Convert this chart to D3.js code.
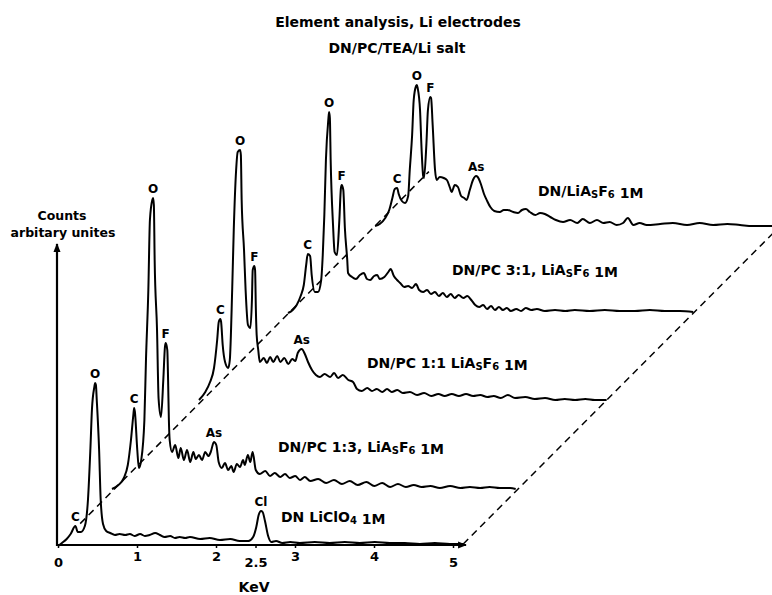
<!DOCTYPE html>
<html>
<head>
<meta charset="utf-8">
<script src="https://cdn.jsdelivr.net/npm/d3@7/dist/d3.min.js"></script>
<style>
  body { margin: 0; background: #fff; }
  text { font-family: "DejaVu Sans", sans-serif; font-weight: bold; fill: #000; }
</style>
</head>
<body>
<svg id="chart" width="772" height="595"></svg>
<script>
// ---- data (keV, counts in arbitrary units) ----
var keV0 = [0,0.05,0.11,0.16,0.22,0.25,0.29,0.34,0.38,0.41,0.43,0.46,0.47,0.48,0.49,0.52,0.54,0.57,0.61,0.66,0.72,0.78,0.85,0.91,0.97,1.04,1.10,1.16,1.23,1.29,1.35,1.42,1.48,1.54,1.61,1.67,1.80,1.92,2.05,2.18,2.30,2.41,2.47,2.51,2.54,2.57,2.59,2.62,2.66,2.70,2.76,2.84,2.94,3.06,3.25,3.44,3.63,3.82,4.01,4.20,4.39,4.58,4.77,4.96,5.13];
var counts0 = [0,3,7,12,20,14,14,20,47,97,137,159,163,161,147,97,47,22,15,13,11,12,11,12,10,12,10,11,13,11,9,10,8,9,8,9,7,8,6,7,5,5,9,19,31,35,34,25,10,4,5,3,4,3,4,3,4,3,4,3,3,2,3,2,2];

var keV1 = [0,0.08,0.15,0.20,0.24,0.27,0.28,0.29,0.32,0.34,0.37,0.41,0.43,0.46,0.48,0.51,0.52,0.53,0.54,0.57,0.59,0.62,0.65,0.67,0.68,0.70,0.71,0.72,0.73,0.76,0.80,0.84,0.87,0.91,0.95,0.99,1.03,1.06,1.10,1.14,1.18,1.22,1.25,1.29,1.32,1.35,1.39,1.43,1.47,1.51,1.54,1.58,1.62,1.66,1.68,1.72,1.75,1.78,1.82,1.87,1.94,2.00,2.06,2.13,2.19,2.25,2.32,2.38,2.44,2.51,2.61,2.71,2.81,2.91,3.01,3.11,3.22,3.32,3.42,3.52,3.62,3.72,3.82,3.92,4.03,4.15,4.28,4.41,4.53,4.66,4.78,4.91,5.04,5.11];
var counts1 = [0,4,11,24,49,74,81,77,39,21,29,69,129,199,269,289,291,284,229,159,90,72,110,142,146,139,109,69,49,37,44,31,41,29,39,27,37,30,34,29,37,33,37,47,44,27,21,26,19,23,17,25,22,29,24,34,27,37,19,15,18,13,16,12,15,11,13,9,12,8,10,6,9,5,8,4,7,3,6,2,5,2,4,2,3,1,3,1,2,1,2,1,1,0];

var keV2 = [0,0.08,0.14,0.19,0.23,0.25,0.27,0.28,0.30,0.33,0.37,0.39,0.42,0.44,0.47,0.49,0.52,0.53,0.54,0.57,0.59,0.62,0.65,0.67,0.68,0.70,0.71,0.72,0.73,0.75,0.77,0.82,0.86,0.90,0.94,0.99,1.03,1.08,1.13,1.18,1.22,1.25,1.30,1.34,1.38,1.43,1.48,1.53,1.59,1.66,1.71,1.76,1.82,1.89,1.95,2.00,2.06,2.13,2.19,2.25,2.32,2.38,2.44,2.51,2.58,2.67,2.76,2.85,2.94,3.03,3.11,3.20,3.29,3.38,3.47,3.56,3.65,3.73,3.82,3.91,4.00,4.13,4.25,4.38,4.51,4.63,4.76,4.89,5.01,5.16];
var counts2 = [0,8,18,32,60,78,81,78,55,38,32,40,110,170,230,248,250,245,200,150,110,75,72,100,130,134,130,90,65,50,38,42,37,43,38,44,38,42,36,41,39,47,51,46,38,30,25,23,26,23,27,22,25,20,18,11,9,12,9,11,8,11,8,10,7,8,5,7,4,6,4,6,4,6,4,5,3,4,2,5,2,3,1,2,0,1,0,1,0,0];

var keV3 = [0,0.06,0.11,0.16,0.20,0.23,0.25,0.28,0.30,0.34,0.38,0.42,0.44,0.46,0.48,0.51,0.52,0.53,0.54,0.57,0.59,0.62,0.65,0.67,0.68,0.70,0.72,0.75,0.76,0.81,0.86,0.91,0.96,1.00,1.04,1.09,1.13,1.16,1.22,1.27,1.30,1.34,1.38,1.42,1.47,1.52,1.57,1.62,1.66,1.71,1.76,1.81,1.86,1.91,1.96,2.01,2.06,2.11,2.16,2.22,2.27,2.32,2.37,2.42,2.47,2.52,2.57,2.62,2.67,2.72,2.77,2.82,2.89,2.95,3.01,3.08,3.15,3.25,3.38,3.51,3.63,3.82,4.01,4.20,4.39,4.58,4.77,4.96,5.13];
var counts3 = [0,3,8,17,28,48,59,57,38,21,21,33,58,98,153,193,201,195,153,88,61,58,93,125,128,123,85,53,40,36,34,38,40,34,33,37,38,34,36,41,44,37,33,30,26,27,25,29,23,21,23,19,21,17,20,16,19,15,18,15,17,13,8,6,8,4,7,3,6,3,5,2,4,2,5,3,4,2,3,2,3,2,3,2,2,3,2,2,1];

var keV4 = [0,0.06,0.13,0.18,0.22,0.25,0.28,0.30,0.34,0.38,0.42,0.44,0.47,0.49,0.52,0.53,0.54,0.57,0.59,0.61,0.62,0.65,0.67,0.70,0.71,0.73,0.76,0.78,0.82,0.87,0.91,0.95,0.97,1.01,1.05,1.09,1.13,1.16,1.20,1.24,1.28,1.30,1.34,1.38,1.42,1.46,1.51,1.58,1.63,1.68,1.75,1.81,1.86,1.91,1.96,2.03,2.09,2.15,2.22,2.29,2.38,2.47,2.56,2.63,2.72,2.81,2.89,2.97,3.06,3.14,3.20,3.27,3.35,3.44,3.61,3.77,3.95,4.11,4.28,4.46,4.62,4.78,4.96,5.13];
var counts4 = [0,2,8,16,28,37,38,32,25,23,30,56,91,126,140,141,138,116,76,50,48,81,116,129,128,101,56,46,49,48,46,38,34,41,39,30,28,26,36,46,50,49,42,32,25,19,15,14,16,16,14,13,16,17,14,11,13,12,9,6,4,6,3,7,3,6,3,4,1,3,8,1,3,1,2,3,1,3,1,2,1,0,0,0];

// solution names, front to back
var solutions = ["DN LiClO4 1M", "DN/PC 1:3, LiAsF6 1M", "DN/PC 1:1 LiAsF6 1M", "DN/PC 3:1, LiAsF6 1M", "DN/LiAsF6 1M"];

// element marks on each trace: [element, keV of the peak]
var peaks0 = [["C", 0.22], ["O", 0.47], ["Cl", 2.57]];
var peaks1 = [["C", 0.28], ["O", 0.52], ["F", 0.68], ["As", 1.29]];
var peaks2 = [["C", 0.27], ["O", 0.52], ["F", 0.70], ["As", 1.30]];
var peaks3 = [["C", 0.25], ["O", 0.52], ["F", 0.68]];
var peaks4 = [["C", 0.28], ["O", 0.53], ["F", 0.70], ["As", 1.28]];

var tickValues = [0, 1, 2, 2.5, 3, 4, 5];

// ---- layout (pseudo 3D: each trace is pushed back up and to the right) ----
var originX = 58;
var shiftX = [0, 54, 141, 230, 317];
var baseY = [546, 489, 400, 313, 226];
var nameXY = [[281, 517], [278, 447], [367, 363], [452, 270], [538, 191]];

var svg = d3.select("#chart");

var x = d3.scaleLinear().domain([0, 5]).range([0, 395]);
var y = d3.scaleLinear().domain([0, 300]).range([0, -300]);

var traces = [
  {keV: keV0, counts: counts0, peaks: peaks0},
  {keV: keV1, counts: counts1, peaks: peaks1},
  {keV: keV2, counts: counts2, peaks: peaks2},
  {keV: keV3, counts: counts3, peaks: peaks3},
  {keV: keV4, counts: counts4, peaks: peaks4}
];
traces.forEach(function(t, i){
  t.pts = t.keV.map(function(e, j){ return [e, t.counts[j]]; });
  t.ox = originX + shiftX[i];
  t.oy = baseY[i];
});

// title
svg.append("text").attr("x", 398).attr("y", 27).attr("text-anchor", "middle")
  .style("font-size", "14px").text("Element analysis, Li electrodes");
svg.append("text").attr("x", 397).attr("y", 53).attr("text-anchor", "middle")
  .style("font-size", "14px").text("DN/PC/TEA/Li salt");

// arrow marker
svg.append("defs").append("marker")
  .attr("id", "arrow").attr("viewBox", "0 0 10 10").attr("refX", 9).attr("refY", 5)
  .attr("markerWidth", 4).attr("markerHeight", 4).attr("orient", "auto")
  .append("path").attr("d", "M0,1 L10,5 L0,9 Z").attr("fill", "#000");

// dashed guide lines through the starts and ends of the traces
function tracePoint(t, k){
  var p = t.pts[k];
  return [t.ox + x(p[0]), t.oy + y(p[1])];
}
function guide(a, b, t0, t1){
  svg.append("line")
    .attr("x1", a[0] + (b[0] - a[0]) * t0).attr("y1", a[1] + (b[1] - a[1]) * t0)
    .attr("x2", a[0] + (b[0] - a[0]) * t1).attr("y2", a[1] + (b[1] - a[1]) * t1)
    .attr("stroke", "#000").attr("stroke-width", 1.5).attr("stroke-dasharray", "7,5");
}
var first = traces[0], last = traces[traces.length - 1];
guide(tracePoint(first, 0), tracePoint(last, 0), 0.07, 1.17);
guide(tracePoint(first, first.pts.length - 1), tracePoint(last, last.pts.length - 1), 0.0, 1.15);

// axes
var axisX = d3.scaleLinear().domain([0, 5]).range([originX, originX + 395]);
svg.append("line").attr("x1", originX - 1).attr("y1", 545).attr("x2", 466).attr("y2", 545)
  .attr("stroke", "#000").attr("stroke-width", 2.2).attr("marker-end", "url(#arrow)");
svg.append("line").attr("x1", originX - 1).attr("y1", 546).attr("x2", originX - 1).attr("y2", 244)
  .attr("stroke", "#000").attr("stroke-width", 2.2).attr("marker-end", "url(#arrow)");

var gx = svg.append("g").attr("transform", "translate(0,545)")
  .call(d3.axisBottom(axisX).tickValues(tickValues).tickSize(3).tickPadding(4)
    .tickFormat(function(d){ return String(d); }));
gx.select(".domain").remove();
gx.selectAll(".tick line").attr("stroke", "#000").attr("stroke-width", 1.5);
gx.selectAll(".tick text")
  .style("font-family", "DejaVu Sans, sans-serif").style("font-weight", "bold").style("font-size", "13px")
  .attr("dy", function(d){ return (d === 0 || d === 2.5 || d === 5) ? "1.15em" : "0.7em"; });

svg.append("text").attr("x", 254).attr("y", 592).attr("text-anchor", "middle")
  .style("font-size", "14px").text("KeV");

svg.append("text").attr("x", 62).attr("y", 220).attr("text-anchor", "middle")
  .style("font-size", "12.5px").text("Counts");
svg.append("text").attr("x", 63).attr("y", 237).attr("text-anchor", "middle")
  .style("font-size", "12.5px").text("arbitary unites");

// spectra
var line = d3.line()
  .x(function(d){ return x(d[0]); })
  .y(function(d){ return y(d[1]); })
  .curve(d3.curveMonotoneX);

traces.forEach(function(t, i){
  var g = svg.append("g").attr("transform", "translate(" + t.ox + "," + t.oy + ")");
  g.append("path").datum(t.pts).attr("d", line)
    .attr("fill", "none").attr("stroke", "#000").attr("stroke-width", 2)
    .attr("stroke-linejoin", "round");

  g.selectAll("text.peak").data(t.peaks).enter().append("text")
    .attr("class", "peak")
    .attr("x", function(d){ return x(d[1]); })
    .attr("y", function(d){
      var k = d3.minIndex(t.keV, function(e){ return Math.abs(e - d[1]); });
      return y(t.counts[k]) - 5;
    })
    .attr("text-anchor", "middle").style("font-size", "12px")
    .text(function(d){ return d[0]; });
});

// solution names with the small lowered letters of the original lettering
solutions.forEach(function(name, i){
  var t = svg.append("text").attr("x", nameXY[i][0]).attr("y", nameXY[i][1] + 5)
    .style("font-size", "14px");
  var parts = name.split(/(AsF6|ClO4)/);
  parts.forEach(function(p){
    if (p === "AsF6") {
      t.append("tspan").text("A");
      t.append("tspan").attr("dy", 2).style("font-size", "10px").text("S");
      t.append("tspan").attr("dy", -2).text("F");
      t.append("tspan").attr("dy", 2).style("font-size", "10px").text("6");
      t.append("tspan").attr("dy", -2).text("");
    } else if (p === "ClO4") {
      t.append("tspan").text("ClO");
      t.append("tspan").attr("dy", 2).style("font-size", "10px").text("4");
      t.append("tspan").attr("dy", -2).text("");
    } else {
      t.append("tspan").text(p);
    }
  });
});
</script>
</body>
</html>
